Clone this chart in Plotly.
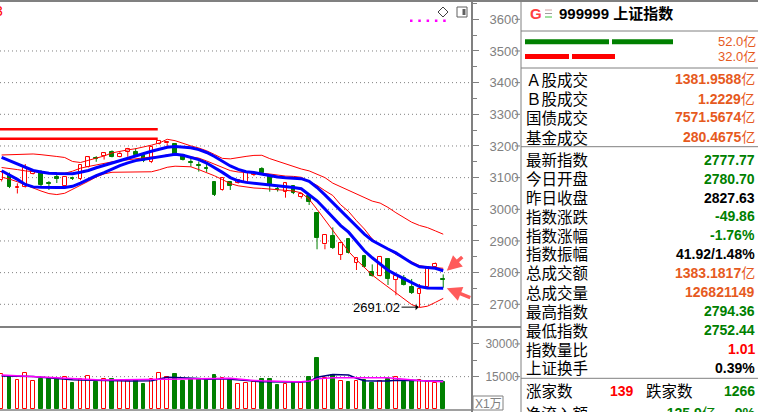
import plotly.graph_objects as go

W, H = 758, 412

# ---------------- data ----------------
opens = [3092, 3108, 3066, 3069, 3112, 3119, 3082, 3102, 3075, 3099,
         3096, 3135, 3161, 3169, 3182, 3166, 3182, 3180, 3172, 3149,
         3207, 3208.5, 3206, 3173, 3148, 3140, 3130.5, 3085, 3061, 3085,
         3082, 3087, 3108, 3126, 3104, 3063, 3056, 3074, 3039, 3040.5,
         2987, 2889.5, 2916, 2856, 2905, 2831, 2853, 2801, 2789, 2843,
         2777, 2782, 2756, 2732, 2754, 2817, 2780.70]
highs = [3120, 3116, 3082, 3143, 3124, 3124, 3089, 3115, 3105, 3103,
         3143, 3168, 3168, 3179, 3186, 3182, 3194, 3193, 3175, 3200,
         3219, 3215, 3209, 3175, 3162, 3151, 3146, 3087, 3100.5, 3089,
         3094, 3121, 3119, 3133, 3105, 3077, 3083, 3075, 3048, 3044,
         2990, 2920.5, 2943, 2894, 2906, 2849, 2856, 2826, 2853, 2846,
         2791, 2792.5, 2780, 2764, 2818, 2832, 2794.36]
lows = [3088, 3067, 3050, 3067, 3110, 3071, 3061, 3083, 3068, 3092.6,
        3092, 3132, 3150, 3157, 3164, 3164, 3166, 3166, 3149, 3146,
        3204.7, 3198, 3171.5, 3154, 3134.6, 3119, 3118, 3042, 3059, 3061,
        3080, 3086, 3105, 3111.5, 3055.6, 3056, 3036.7, 3048, 3034, 3013.6,
        2873.7, 2873.7, 2874.7, 2840, 2860.4, 2808.3, 2814.7, 2787.2, 2787.8, 2761,
        2728.5, 2759.4, 2732.5, 2691.02, 2751.5, 2816.2, 2752.44]
closes = [3117, 3072, 3072, 3129, 3121, 3077, 3080, 3096, 3103, 3096,
          3140, 3164, 3158, 3177, 3166, 3175.6, 3190.5, 3171.5, 3152.6, 3197,
          3217, 3213.5, 3173, 3156, 3145, 3137, 3126, 3044, 3099, 3074,
          3092.6, 3119, 3116, 3115, 3075, 3059.4, 3082, 3050.6, 3047.4, 3024,
          2910, 2919, 2877, 2892.7, 2863, 2847, 2817, 2789.4, 2850.4, 2780,
          2789.4, 2761, 2735, 2747.4, 2817, 2827.63, 2777.77]
volumes = [16190, 15410, 13440, 16650, 12980, 14040, 13760, 14040, 14680, 12200,
           13900, 15270, 12660, 13760, 13760, 13120, 13120, 13440, 11740, 13760,
           16790, 14680, 16330, 13120, 13760, 13760, 13760, 15870, 14360, 13580,
           11740, 12200, 12380, 13760, 13900, 11150, 11600, 12660, 12060, 14950,
           23670, 14500, 15730, 12980, 12660, 12980, 13440, 12200, 12980, 13760,
           14820, 12660, 12980, 13440, 12520, 12200, 12680]

blue_upper = [3163.9, 3153.2, 3142.1, 3132.0, 3122.6, 3117.8, 3114.0, 3112.8, 3111.8, 3112.5,
              3116.9, 3122.6, 3131.1, 3138.7, 3145.3, 3152.9, 3162.0, 3170.2, 3177.2, 3183.5,
              3189.8, 3196.1, 3198.4, 3197.4, 3194.6, 3188.3, 3179.4, 3166.8, 3150.7, 3136.8,
              3126.0, 3118.5, 3115.9, 3110.6, 3105.8, 3102.0, 3099.5, 3098.6, 3096.7, 3088.1,
              3068.9, 3045.5, 3020.6, 2995.6, 2970.7, 2945.7, 2921.7, 2901.5, 2887.3, 2874.7,
              2862.3, 2846.2, 2830.4, 2818.4, 2815.6, 2813.7, 2806.1]
blue_lower = [3121.6, 3109.0, 3094.5, 3078.3, 3070.8, 3069.5, 3068.6, 3068.6, 3069.2, 3072.7,
              3082.8, 3095.1, 3106.5, 3115.6, 3127.3, 3138.0, 3146.6, 3153.8, 3157.6, 3162.0,
              3166.8, 3171.5, 3174.0, 3170.6, 3164.2, 3157.0, 3146.2, 3132.4, 3116.6, 3100.1,
              3090.0, 3085.0, 3082.5, 3080.2, 3078.0, 3075.8, 3072.3, 3068.9, 3064.8, 3046.8,
              3026.9, 3001.0, 2973.2, 2948.6, 2927.7, 2896.8, 2869.0, 2846.9, 2826.0, 2807.7,
              2793.8, 2781.2, 2768.9, 2755.9, 2751.5, 2750.9, 2750.5]
band_top = [3171.5, 3172.1, 3173.1, 3173.7, 3174.7, 3172.5, 3170.6, 3166.8, 3163.6, 3151.0,
            3147.8, 3154.5, 3161.4, 3168.4, 3178.1, 3183.5, 3187.6, 3191.4, 3196.5, 3202.5,
            3209.4, 3221.1, 3216.7, 3208.1, 3200.2, 3193.6, 3184.8, 3173.1, 3160.8, 3159.2,
            3164.2, 3167.1, 3170.2, 3170.6, 3160.1, 3151.6, 3143.1, 3134.6, 3127.3, 3121.3,
            3110.6, 3100.1, 3082.5, 3070.8, 3059.1, 3046.8, 3035.1, 3025.9, 3019.6, 3006.0,
            2989.3, 2974.8, 2959.3, 2948.9, 2942.2, 2931.8, 2921.4]
band_mid = [3132.0, 3129.5, 3125.4, 3121.3, 3118.1, 3116.6, 3115.0, 3114.4, 3113.7, 3120.4,
            3129.8, 3135.2, 3140.6, 3145.3, 3149.7, 3153.5, 3157.0, 3159.8, 3163.0, 3165.2,
            3166.1, 3172.1, 3173.1, 3169.9, 3165.8, 3161.7, 3152.6, 3143.1, 3133.0, 3122.2,
            3117.8, 3116.9, 3115.3, 3113.4, 3111.5, 3107.7, 3104.9, 3103.9, 3101.1, 3088.5,
            3075.5, 3058.8, 3043.6, 3014.2, 2993.1, 2964.0, 2937.8, 2906.2, 2886.0, 2874.7,
            2857.9, 2846.2, 2833.0, 2822.2, 2818.1, 2815.3, 2813.7]
band_low = [3101.4, 3095.4, 3086.9, 3076.5, 3066.3, 3057.8, 3049.6, 3046.5, 3050.6, 3062.6,
            3076.8, 3088.5, 3102.0, 3111.8, 3116.9, 3116.9, 3116.9, 3117.2, 3118.1, 3118.5,
            3124.8, 3132.7, 3136.1, 3135.8, 3134.2, 3125.4, 3115.9, 3105.8, 3093.8, 3081.2,
            3074.2, 3070.1, 3067.3, 3066.0, 3064.1, 3062.2, 3060.3, 3057.8, 3052.1, 3031.6,
            3000.0, 2966.6, 2933.1, 2900.2, 2866.8, 2840.6, 2815.6, 2792.5, 2773.3, 2755.0,
            2737.6, 2716.4, 2699.1, 2689.9, 2694.0, 2706.0, 2718.7]
vol_ma_navy = [15270, 15270, 15270, 15230, 15060, 14760, 14420, 14090, 13850, 13590,
               13440, 13440, 13440, 13370, 13230, 13100, 12990, 12980, 12980, 13120,
               13950, 14680, 14620, 14570, 14520, 14180, 13790, 13910, 14030, 13800,
               13600, 13420, 12940, 12600, 12510, 12420, 12400, 12490, 12590, 12720,
               14680, 15470, 16010, 15900, 15740, 14270, 13150, 12980, 12980, 12980,
               13380, 13440, 13440, 13260, 12980, 12980, 12980]
vol_ma_magenta = [15690, 15490, 15280, 15070, 14890, 14730, 14580, 14420, 14270, 14000,
                  13900, 13720, 13530, 13440, 13440, 13440, 13440, 13440, 13440, 13480,
                  13740, 13790, 13820, 13840, 13870, 13900, 14060, 14220, 14220, 14220,
                  13930, 13490, 13270, 13060, 12880, 12770, 12660, 12660, 12660, 13000,
                  13970, 14400, 14500, 14500, 14500, 14540, 14580, 14620, 14660, 14480,
                  14100, 13730, 13380, 13180, 12990, 12800, 12660]

price_ticks = [2700, 2800, 2900, 3000, 3100, 3200, 3300, 3400, 3500, 3600]
price_grid = [2700, 2800, 2900, 3000, 3100, 3200, 3300, 3400, 3500]
vol_ticks = [15000, 30000]
drawn_levels = [3252.7, 3223.0]   # thick red horizontal lines (top left)
drawn_level_end = 19.8            # candle index where they stop
low_mark = 2691.02

stat_labels = ["Ａ股成交", "Ｂ股成交", "国债成交", "基金成交",
               "最新指数", "今日开盘", "昨日收盘", "指数涨跌", "指数涨幅", "指数振幅",
               "总成交额", "总成交量", "最高指数", "最低指数", "指数量比", "上证换手"]
stat_numbers = ["1381.9588", "1.2229", "7571.5674", "280.4675",
                "2777.77", "2780.70", "2827.63", "-49.86", "-1.76%", "41.92/1.48%",
                "1383.1817", "126821149", "2794.36", "2752.44", "1.01", "0.39%"]
stat_units = ["亿", "亿", "亿", "亿", "", "", "", "", "", "", "亿", "", "", "", "", ""]
stat_kind = ["o", "o", "o", "o", "g", "g", "k", "g", "g", "k", "o", "o", "g", "g", "r", "k"]

# ---------------- styles ----------------
RED = "#ff0000"
GREEN = "#008000"
BLUE = "#0000ff"
GRAY = "#808080"
ORANGE = "#e65a1e"
KIND_COLOR = {"o": ORANGE, "g": GREEN, "k": "#000000", "r": RED}
CJK = "Noto Sans CJK SC"
LAT = "Liberation Sans, Arial"

n = len(closes)
idx = list(range(n))
up = [c >= o for o, c in zip(opens, closes)]

X_LO, X_HI = -0.203, 59.65
P_LO, P_HI = 2628.3, 3657.8
V_LO, V_HI = -300, 37750
XD = 472 / W


def px(x):
    return x / W


def py(y):
    return 1 - y / H


fig = go.Figure()

# candle bodies
for flag in (True, False):
    sel = [i for i in idx if up[i] == flag]
    fig.add_trace(go.Bar(
        x=sel,
        y=[max(abs(closes[i] - opens[i]), 0.8) for i in sel],
        base=[min(opens[i], closes[i]) for i in sel],
        width=0.47,
        marker=dict(color="white" if flag else GREEN,
                    line=dict(color=RED if flag else GREEN, width=1)),
        xaxis="x", yaxis="y", hoverinfo="skip"))

# volume bars
for flag in (True, False):
    sel = [i for i in idx if up[i] == flag]
    fig.add_trace(go.Bar(
        x=sel, y=[volumes[i] for i in sel], width=0.47,
        marker=dict(color="white" if flag else GREEN,
                    line=dict(color=RED if flag else GREEN, width=1)),
        xaxis="x2", yaxis="y2", hoverinfo="skip"))

# wicks
for flag in (True, False):
    wx, wy = [], []
    for i in idx:
        if up[i] != flag:
            continue
        top, bot = max(opens[i], closes[i]), min(opens[i], closes[i])
        if flag:
            wx += [i, i, None, i, i, None]
            wy += [highs[i], top, None, bot, lows[i], None]
        else:
            wx += [i, i, None]
            wy += [highs[i], lows[i], None]
    fig.add_trace(go.Scatter(x=wx, y=wy, mode="lines",
                             line=dict(color=RED if flag else GREEN, width=1),
                             xaxis="x", yaxis="y", hoverinfo="skip"))

# indicator lines
for series in (band_top, band_mid, band_low):
    fig.add_trace(go.Scatter(x=idx, y=series, mode="lines",
                             line=dict(color=RED, width=1),
                             xaxis="x", yaxis="y", hoverinfo="skip"))
for series in (blue_upper, blue_lower):
    fig.add_trace(go.Scatter(x=idx, y=series, mode="lines",
                             line=dict(color=BLUE, width=3),
                             xaxis="x", yaxis="y", hoverinfo="skip"))

fig.add_trace(go.Scatter(x=idx, y=vol_ma_navy, mode="lines",
                         line=dict(color="#000080", width=1.5),
                         xaxis="x2", yaxis="y2", hoverinfo="skip"))
fig.add_trace(go.Scatter(x=idx, y=vol_ma_magenta, mode="lines",
                         line=dict(color="#ff00ff", width=1.5),
                         xaxis="x2", yaxis="y2", hoverinfo="skip"))

shapes = []
# dotted grid
for g in price_grid:
    shapes.append(dict(type="line", xref="paper", yref="y", x0=0, x1=XD, y0=g, y1=g,
                       line=dict(color=GRAY, width=1, dash="1px,3px"), layer="below"))
shapes.append(dict(type="line", xref="paper", yref="y2", x0=0, x1=XD, y0=15000, y1=15000,
                   line=dict(color=GRAY, width=1, dash="1px,3px"), layer="below"))
# drawn thick red levels
for lv in drawn_levels:
    shapes.append(dict(type="line", xref="x", yref="y", x0=X_LO, x1=drawn_level_end,
                       y0=lv, y1=lv, line=dict(color=RED, width=2.5)))
# frame lines
shapes += [
    dict(type="line", xref="paper", yref="paper", x0=0, x1=1, y0=py(1), y1=py(1),
         line=dict(color=GRAY, width=2)),
    dict(type="line", xref="paper", yref="paper", x0=XD, x1=XD, y0=0, y1=1,
         line=dict(color=GRAY, width=2)),
    dict(type="line", xref="paper", yref="paper", x0=0, x1=px(521), y0=py(327), y1=py(327),
         line=dict(color=GRAY, width=2)),
    dict(type="line", xref="paper", yref="paper", x0=0, x1=XD, y0=py(410), y1=py(410),
         line=dict(color=GRAY, width=1.5)),
    dict(type="line", xref="paper", yref="paper", x0=px(521), x1=px(521), y0=0, y1=1,
         line=dict(color=GRAY, width=1)),
]
for yy in (31, 68, 146.7, 378.3):
    shapes.append(dict(type="line", xref="paper", yref="paper", x0=px(521), x1=1,
                       y0=py(yy), y1=py(yy), line=dict(color=GRAY, width=1)))
# right-side short ticks next to labels
for t in price_ticks:
    shapes.append(dict(type="line", xref="paper", yref="y", x0=px(515), x1=px(520),
                       y0=t, y1=t, line=dict(color=GRAY, width=1)))
for t in vol_ticks:
    shapes.append(dict(type="line", xref="paper", yref="y2", x0=px(515), x1=px(520),
                       y0=t, y1=t, line=dict(color=GRAY, width=1)))
# X1万 box
shapes.append(dict(type="rect", xref="paper", yref="paper", x0=px(473), x1=px(503),
                   y0=py(410), y1=py(396), line=dict(color=GRAY, width=1)))
# magenta dotted marker, icons
shapes.append(dict(type="line", xref="paper", yref="paper", x0=px(410), x1=px(446),
                   y0=py(20.7), y1=py(20.7),
                   line=dict(color="#ff00ff", width=2.5, dash="2.5px,5.8px")))
shapes.append(dict(type="path", xref="paper", yref="paper",
                   path=f"M {px(443)} {py(7)} L {px(448)} {py(12)} L {px(443)} {py(17)} L {px(438)} {py(12)} Z",
                   line=dict(color="#404040", width=1)))
shapes.append(dict(type="rect", xref="paper", yref="paper", x0=px(457), x1=px(467),
                   y0=py(17), y1=py(7), line=dict(color="#606060", width=1)))
shapes.append(dict(type="rect", xref="paper", yref="paper", x0=px(462.5), x1=px(465.5),
                   y0=py(15), y1=py(9), line=dict(width=0), fillcolor="#606060"))
# panel bars
for (x0, x1, y0, y1, col) in [(525, 609, 39.3, 44.3, GREEN), (612, 673, 39.3, 44.3, GREEN),
                              (525, 569, 54, 59, RED), (572, 615, 54, 59, RED)]:
    shapes.append(dict(type="rect", xref="paper", yref="paper", x0=px(x0), x1=px(x1),
                       y0=py(y1), y1=py(y0), line=dict(width=0), fillcolor=col))
# 三 icon
for yy, col in ((10, "#d0a0a0"), (13.5, "#a0a0a0"), (17, "#40c040")):
    shapes.append(dict(type="line", xref="paper", yref="paper", x0=px(545), x1=px(552),
                       y0=py(yy), y1=py(yy), line=dict(color=col, width=1)))

ann = []


def txt(x, y, s, size, color, anchor="left", family=CJK):
    ann.append(dict(x=px(x), y=py(y), xref="paper", yref="paper", text=s, showarrow=False,
                    xanchor=anchor, yanchor="middle",
                    font=dict(size=size, color=color, family=family)))


txt(-1, 11, "3", 14, RED, "center", LAT)
txt(528, 14, "<b>G</b>", 15, "#ff4040", "left", LAT)
txt(557, 14, "<b>999999 上证指数</b>", 15, "#000000", "left", LAT + ", " + CJK)
txt(758, 41.5, "52.0亿", 13, ORANGE, "right", LAT + ", " + CJK)
txt(758, 56.5, "32.0亿", 13, ORANGE, "right", LAT + ", " + CJK)

rows_y = [79, 98, 117, 136.5, 159, 178, 197, 215.5, 234.5, 253, 272, 291.5, 310.5,
          329.5, 348.5, 367]
for lab, num, unit, kind, yy in zip(stat_labels, stat_numbers, stat_units, stat_kind, rows_y):
    txt(524, yy, lab, 15.5, "#000000")
    txt(757, yy + 0.5, f"<b>{num}</b>{unit}", 14, KIND_COLOR[kind], "right",
        LAT + ", " + CJK)

txt(524, 390, "涨家数", 15.5, "#000000")
txt(636, 390.5, "<b>139</b>", 14, RED, "right", LAT)
txt(644, 390, "跌家数", 15.5, "#000000")
txt(757, 390.5, "<b>1266</b>", 14, GREEN, "right", LAT)
txt(524, 413, "净流入额", 15.5, "#000000")
txt(718, 413, "<b>-125.9</b>亿", 14, GREEN, "right", LAT + ", " + CJK)
txt(757, 413, "<b>-9%</b>", 14, GREEN, "right", LAT)
txt(488, 403.5, "X1万", 12, GRAY, "center", LAT + ", " + CJK)

# low marker
ann.append(dict(x=53, y=low_mark, xref="x", yref="y", text=f"{low_mark:.2f}",
                showarrow=True, arrowhead=1, arrowsize=1, arrowwidth=1, arrowcolor="#000000",
                ax=-43, ay=0, standoff=1, font=dict(size=13, color="#000000", family=LAT)))
# salmon arrows pointing at the line ends
ann.append(dict(x=56.45, y=blue_upper[-1], xref="x", yref="y", text="", showarrow=True,
                arrowhead=2, arrowsize=0.85, arrowwidth=3.5, arrowcolor="#ff5a5a",
                ax=17, ay=-15, standoff=0))
ann.append(dict(x=56.45, y=blue_lower[-1], xref="x", yref="y", text="", showarrow=True,
                arrowhead=2, arrowsize=0.85, arrowwidth=3.5, arrowcolor="#ff5a5a",
                ax=25, ay=10, standoff=0))

fig.update_layout(
    width=W, height=H, margin=dict(l=0, r=0, t=0, b=0),
    paper_bgcolor="white", plot_bgcolor="white", showlegend=False,
    barmode="overlay", bargap=0,
    xaxis=dict(domain=[0, XD], range=[X_LO, X_HI], visible=False, anchor="y",
               fixedrange=True),
    xaxis2=dict(domain=[0, XD], range=[X_LO, X_HI], visible=False, anchor="y2",
                matches="x", fixedrange=True),
    yaxis=dict(domain=[py(327), py(1)], range=[P_LO, P_HI], side="right", anchor="x",
               showgrid=False, zeroline=False, showline=False,
               tickmode="array", tickvals=price_ticks, ticktext=[str(t) for t in price_ticks],
               ticks="outside", ticklen=6, tickcolor=GRAY, tickwidth=1,
               ticklabelstandoff=8,
               tickfont=dict(size=13, color=GRAY, family=LAT),
               minor=dict(tickmode="array",
                          tickvals=[t + 50 for t in price_ticks] + [2650],
                          ticks="outside", ticklen=4, tickcolor=GRAY, showgrid=False),
               fixedrange=True),
    yaxis2=dict(domain=[py(410), py(327)], range=[V_LO, V_HI], side="right", anchor="x2",
                showgrid=False, zeroline=False, showline=False,
                tickmode="array", tickvals=vol_ticks, ticktext=[str(t) for t in vol_ticks],
                ticks="outside", ticklen=6, tickcolor=GRAY, tickwidth=1,
                ticklabelstandoff=4,
                tickfont=dict(size=12, color=GRAY, family=LAT),
                minor=dict(tickmode="array", tickvals=[22500], ticks="outside",
                           ticklen=4, tickcolor=GRAY, showgrid=False),
                fixedrange=True),
    shapes=shapes, annotations=ann,
)

fig.write_html("out.html", config={"displayModeBar": False})
